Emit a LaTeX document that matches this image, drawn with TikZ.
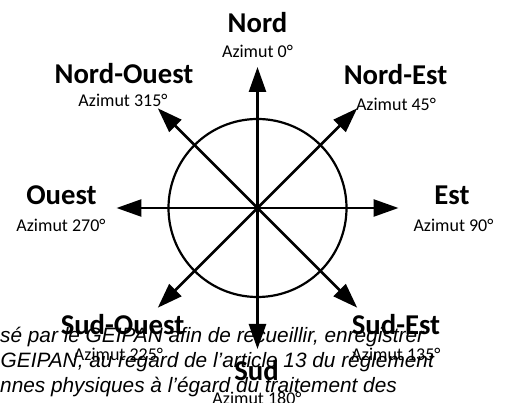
\documentclass[tikz,border=0pt]{standalone}
\usepackage{fontspec}
\setmainfont{Carlito}
\newfontfamily\textefont{Liberation Sans}
\usetikzlibrary{arrows.meta}

\begin{document}
\begin{tikzpicture}[x=1pt,y=1pt,
    fleche/.style={line width=2.6pt,-{Triangle[length=25pt,width=17pt]}},
    point/.style={font=\bfseries\fontsize{28.7}{30}\selectfont,anchor=base},
    azimut/.style={font=\fontsize{18}{20}\selectfont,anchor=base},
    texte/.style={font=\textefont\itshape\fontsize{20.8}{25}\selectfont,anchor=base west,inner sep=0pt}]
      \useasboundingbox (-257.5,-195) rectangle (250.5,208);
      \clip (-257.5,-195) rectangle (250.5,208);
      \coordinate (centre) at (0,0);
      \draw [line width=2.2pt] (centre) circle (89);
      \foreach \nom/\ang in {nord/90,nordest/45,est/0,sudest/-45,sud/-90,sudouest/-135,ouest/180,nordouest/135}
        {\coordinate (\nom) at (\ang:141);
         \draw [fleche] (centre) -- (\nom);}
      % points cardinaux
      \node [point] (lnord) at (0,175.3) {Nord};
      \node [azimut] (anord) at (0,150.7) {Azimut 0°};
      \node [point] (lnordouest) at (-133.5,124.7) {Nord-Ouest};
      \node [azimut] (anordouest) at (-134.5,101.3) {Azimut 315°};
      \node [point] (lnordest) at (138,123) {Nord-Est};
      \node [azimut] (anordest) at (138.5,97) {Azimut 45°};
      \node [point] (louest) at (-196,3) {Ouest};
      \node [azimut] (aouest) at (-196.5,-23.7) {Azimut 270°};
      \node [point] (lest) at (194.5,3) {Est};
      \node [azimut] (aest) at (196,-23.7) {Azimut 90°};
      \node [point] (lsudouest) at (-135,-127) {Sud-Ouest};
      \node [azimut] (asudouest) at (-139,-153) {Azimut 225°};
      \node [point] (lsudest) at (138.5,-127) {Sud-Est};
      \node [azimut] (asudest) at (138.5,-153) {Azimut 135°};
      \node [point] (lsud) at (-1,-172) {Sud};
      \node [azimut] (asud) at (-0.5,-196) {Azimut 180°};
      % texte du document
      \node [texte] (ligne1) at (-257.5,-135) {sé par le GEIPAN afin de recueillir, enregistrer};
      \node [texte] (ligne2) at (-257,-160) {GEIPAN, au regard de l’article 13 du règlement};
      \node [texte] (ligne3) at (-257.5,-185) {nnes physiques à l’égard du traitement des};
\end{tikzpicture}
\end{document}
